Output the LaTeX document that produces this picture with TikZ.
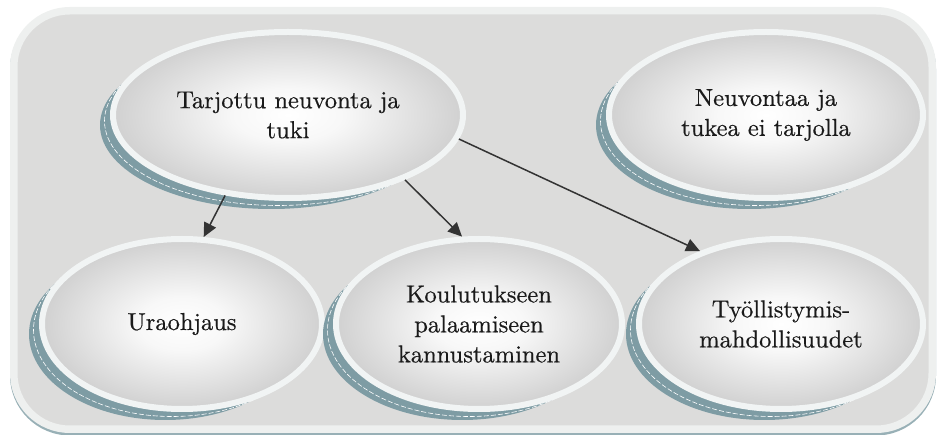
\documentclass[tikz,border=0pt]{standalone}
\usepackage{fontspec}
\setmainfont{lmroman10-regular.otf}[FakeBold=0.5]
\usetikzlibrary{shapes.geometric,arrows.meta}

\definecolor{frameedge}{HTML}{EEF0EF}
\definecolor{framefill}{HTML}{DCDCDB}
\definecolor{ringcol}{HTML}{F1F4F4}
\definecolor{shadecol}{HTML}{7E9CA4}
\definecolor{arrowcol}{HTML}{333333}
\definecolor{labelcol}{HTML}{1A1A1A}

% soft grey bubble: near-white centre fading to grey at the rim
\pgfdeclareradialshading{bubbleshade}{\pgfpoint{0bp}{0bp}}{%
  color(0bp)=(white); color(8bp)=(white!97!black);
  color(28bp)=(black!21); color(50bp)=(black!25); color(100bp)=(black!25)}

\tikzset{
  bubble/.style={ellipse, draw=ringcol, line width=6pt, shade, shading=bubbleshade,
    inner sep=0pt, align=center, text=labelcol,
    font=\fontsize{24.5}{30}\selectfont},
  bubbleshadow/.style={fill=shadecol},
  shadowstitch/.style={draw=white, line width=0.6pt, dash pattern=on 5pt off 2pt},
  link/.style={draw=arrowcol, line width=1.5pt, -{Triangle[length=14pt,width=13pt]}},
}

% #1 name, #2 x, #3 y, #4 x radius, #5 y radius, #6 label
% the blue-grey rim sits below and to the left of each bubble
\newcommand\bubblenode[6]{%
  \fill[bubbleshadow] (#2-16.7,#3+10.1) ellipse [x radius={#4pt-6.7pt}, y radius={#5pt-2.1pt}];
  \draw[shadowstitch] (#2-10,#3+6) ellipse [x radius={#4pt-4.5pt}, y radius={#5pt-1.5pt}];
  \node[bubble, minimum width={2*#4pt-6pt}, minimum height={2*#5pt-6pt}] (#1) at (#2,#3) {#6};
}

\begin{document}
\begin{tikzpicture}[x=1pt,y=-1pt]
  \useasboundingbox (0,0) rectangle (938,435);

  % framed panel with its shadow
  \fill[shadecol!80!white, rounded corners=60pt] (10,9) rectangle (936,435.5);
  \draw[frameedge, fill=framefill, line width=7.5pt, rounded corners=56pt]
    (13.75,10.75) rectangle (932.25,429.25);

  \bubblenode{tuki}{288}{115}{178}{86}{Tarjottu neuvonta ja\\tuki}
  \bubblenode{eituki}{766}{115}{160}{86}{Neuvontaa ja\\tukea ei tarjolla}
  \bubblenode{ura}{182}{324}{143}{88}{Uraohjaus}
  \bubblenode{koul}{479}{324}{146}{88}{Koulutukseen\\palaamiseen\\kannustaminen}
  \bubblenode{tyo}{781}{324}{145}{88}{Työllistymis-\\mahdollisuudet}

  \draw[link] (tuki.232.8) -- (ura.76.4);
  \draw[link] (tuki.-29) -- (koul.101);
  \draw[link] (tuki.-8.5) -- (tyo.138.3);
\end{tikzpicture}
\end{document}
